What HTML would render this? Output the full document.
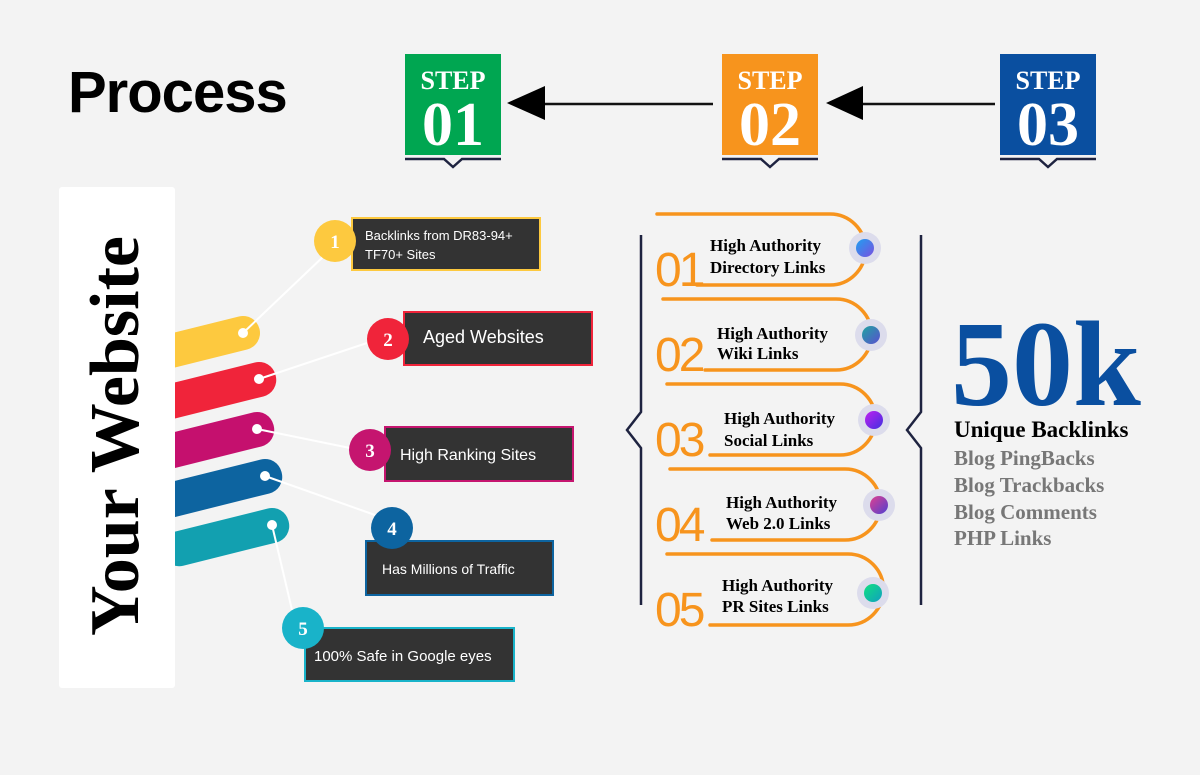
<!DOCTYPE html>
<html><head><meta charset="utf-8"><style>
body{margin:0;width:1200px;height:770px;background:#f3f3f3;overflow:hidden;font-family:"Liberation Sans",sans-serif}
</style></head><body>
<svg width="1200" height="770" viewBox="0 0 1200 770" xmlns="http://www.w3.org/2000/svg">
<defs>
<clipPath id="cl"><rect x="175" y="280" width="200" height="320"/></clipPath>
<linearGradient id="g1" x1="0" y1="0" x2="1" y2="1"><stop offset="0" stop-color="#1fa0f0"/><stop offset="1" stop-color="#7a4fe0"/></linearGradient>
<linearGradient id="g2" x1="0" y1="0" x2="1" y2="1"><stop offset="0" stop-color="#20a5a0"/><stop offset="1" stop-color="#5a4fd0"/></linearGradient>
<linearGradient id="g3" x1="0" y1="0" x2="1" y2="1"><stop offset="0" stop-color="#c020f0"/><stop offset="1" stop-color="#4030e0"/></linearGradient>
<linearGradient id="g4" x1="0" y1="0" x2="1" y2="1"><stop offset="0" stop-color="#e04090"/><stop offset="1" stop-color="#5040d0"/></linearGradient>
<linearGradient id="g5" x1="0" y1="0" x2="1" y2="1"><stop offset="0" stop-color="#10e080"/><stop offset="1" stop-color="#10a0c0"/></linearGradient>
</defs>
<text x="68" y="112" font-family="Liberation Sans" font-weight="900" font-size="58" fill="#000" letter-spacing="-1">Process</text>

<!-- steps -->
<g font-family="Liberation Serif" font-weight="bold" fill="#fff" text-anchor="middle">
<rect x="405" y="54" width="96" height="101" fill="#00a651"/>
<text x="453" y="89" font-size="26">STEP</text><text x="453" y="145" font-size="62">01</text>
<rect x="722" y="54" width="96" height="101" fill="#f7941d"/>
<text x="770" y="89" font-size="26">STEP</text><text x="770" y="145" font-size="62">02</text>
<rect x="1000" y="54" width="96" height="101" fill="#0a4fa0"/>
<text x="1048" y="89" font-size="26">STEP</text><text x="1048" y="145" font-size="62">03</text>
</g>
<g fill="none" stroke="#1e2340" stroke-width="2.5">
<path d="M405 159H444L453 167L462 159H501"/>
<path d="M722 159H761L770 167L779 159H818"/>
<path d="M1000 159H1039L1048 167L1057 159H1096"/>
</g>
<line x1="545" y1="104" x2="713" y2="104" stroke="#111" stroke-width="2.5"/>
<polygon points="507,103 545,86 545,120" fill="#000"/>
<line x1="863" y1="104" x2="995" y2="104" stroke="#111" stroke-width="2.5"/>
<polygon points="826,103 863,86 863,120" fill="#000"/>

<!-- left panel -->
<rect x="59" y="187" width="116" height="501" fill="#fff" rx="3"/>
<text transform="translate(138,436) rotate(-90)" text-anchor="middle" font-family="Liberation Serif" font-weight="bold" font-size="70" fill="#000">Your Website</text>

<!-- bars -->
<g clip-path="url(#cl)">
<rect x="130" y="316" width="130" height="34" rx="17" fill="#fdc93f" transform="rotate(-14 243 333)"/>
<rect x="146" y="362" width="130" height="35" rx="17" fill="#f0243a" transform="rotate(-14 259 379)"/>
<rect x="144" y="412" width="130" height="35" rx="17" fill="#c5106e" transform="rotate(-14 257 429)"/>
<rect x="152" y="459" width="130" height="35" rx="17" fill="#0d64a0" transform="rotate(-14 265 476)"/>
<rect x="159" y="508" width="130" height="35" rx="17" fill="#12a0b0" transform="rotate(-14 272 525)"/>
</g>
<g stroke="#fff" stroke-width="2">
<line x1="243" y1="333" x2="325" y2="255"/><line x1="259" y1="379" x2="370" y2="342"/>
<line x1="257" y1="429" x2="350" y2="448"/><line x1="265" y1="476" x2="375" y2="515"/>
<line x1="272" y1="525" x2="292" y2="610"/>
</g>
<g fill="#fff"><circle cx="243" cy="333" r="5"/><circle cx="259" cy="379" r="5"/><circle cx="257" cy="429" r="5"/><circle cx="265" cy="476" r="5"/><circle cx="272" cy="525" r="5"/></g>

<!-- callouts -->
<g font-family="Liberation Sans" fill="#fff">
<rect x="352" y="218" width="188" height="52" fill="#333" stroke="#fdc93f" stroke-width="2"/>
<text x="365" y="240" font-size="13">Backlinks from DR83-94+</text><text x="365" y="259" font-size="13">TF70+ Sites</text>
<rect x="404" y="312" width="188" height="53" fill="#333" stroke="#f0243a" stroke-width="2"/>
<text x="423" y="343" font-size="18">Aged Websites</text>
<rect x="385" y="427" width="188" height="54" fill="#333" stroke="#c5156f" stroke-width="2"/>
<text x="400" y="460" font-size="16">High Ranking Sites</text>
<rect x="366" y="541" width="187" height="54" fill="#333" stroke="#0d64a0" stroke-width="2"/>
<text x="382" y="574" font-size="14">Has Millions of Traffic</text>
<rect x="305" y="628" width="209" height="53" fill="#333" stroke="#19b3c9" stroke-width="2"/>
<text x="314" y="661" font-size="15">100% Safe in Google eyes</text>
</g>
<g font-family="Liberation Serif" font-weight="bold" font-size="19" fill="#fff" text-anchor="middle">
<circle cx="335" cy="241" r="21" fill="#fdc93f"/><text x="335" y="248">1</text>
<circle cx="388" cy="339" r="21" fill="#f0243a"/><text x="388" y="346">2</text>
<circle cx="370" cy="450" r="21" fill="#c5156f"/><text x="370" y="457">3</text>
<circle cx="392" cy="528" r="21" fill="#0d64a0"/><text x="392" y="535">4</text>
<circle cx="303" cy="628" r="21" fill="#19b3c9"/><text x="303" y="635">5</text>
</g>

<!-- brackets -->
<g fill="none" stroke="#1e2340" stroke-width="2.5">
<path d="M641 235V412L627 430L641 448V605"/>
<path d="M921 235V412L907 430L921 448V605"/>
</g>

<!-- list items -->
<g fill="none" stroke="#f7941d" stroke-width="3.5" stroke-linecap="round">
<path d="M657 214H830A35.5 35.5 0 0 1 830 285H697"/>
<path d="M663 299H836A35.5 35.5 0 0 1 836 370H705"/>
<path d="M667 384H840A35.5 35.5 0 0 1 840 455H710"/>
<path d="M670 469H845A35.5 35.5 0 0 1 845 540H712"/>
<path d="M667 554H848A35.5 35.5 0 0 1 848 625H710"/>
</g>
<g font-family="Liberation Sans" font-size="48" fill="#f7941d" letter-spacing="-3">
<text x="655" y="286">01</text><text x="655" y="371">02</text><text x="655" y="456">03</text><text x="655" y="541">04</text><text x="655" y="626">05</text>
</g>
<g font-family="Liberation Serif" font-weight="bold" font-size="17" fill="#000">
<text x="710" y="251">High Authority</text><text x="710" y="273">Directory Links</text>
<text x="717" y="339">High Authority</text><text x="717" y="359">Wiki Links</text>
<text x="724" y="424">High Authority</text><text x="724" y="446">Social Links</text>
<text x="726" y="508">High Authority</text><text x="726" y="529">Web 2.0 Links</text>
<text x="722" y="591">High Authority</text><text x="722" y="612">PR Sites Links</text>
</g>
<g fill="#dcdcec">
<circle cx="865" cy="248" r="16"/><circle cx="871" cy="335" r="16"/><circle cx="874" cy="420" r="16"/><circle cx="879" cy="505" r="16"/><circle cx="873" cy="593" r="16"/>
</g>
<circle cx="865" cy="248" r="9" fill="url(#g1)"/><circle cx="871" cy="335" r="9" fill="url(#g2)"/>
<circle cx="874" cy="420" r="9" fill="url(#g3)"/><circle cx="879" cy="505" r="9" fill="url(#g4)"/>
<circle cx="873" cy="593" r="9" fill="url(#g5)"/>

<!-- 50k -->
<text x="951" y="405" font-family="Liberation Serif" font-weight="bold" font-size="122" fill="#0a4fa0" letter-spacing="0">50k</text>
<g font-family="Liberation Serif" font-weight="bold" font-size="21">
<text x="954" y="437" fill="#000" font-size="23">Unique Backlinks</text>
<text x="954" y="465" fill="#777">Blog PingBacks</text>
<text x="954" y="492" fill="#777">Blog Trackbacks</text>
<text x="954" y="519" fill="#777">Blog Comments</text>
<text x="954" y="545" fill="#777">PHP Links</text>
</g>
</svg>
</body></html>
